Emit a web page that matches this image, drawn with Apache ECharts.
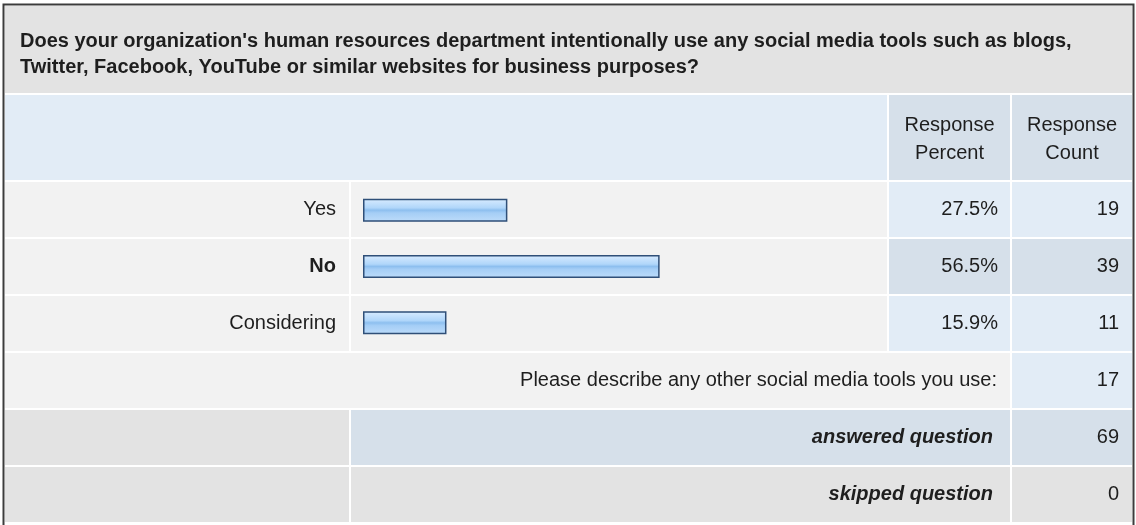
<!DOCTYPE html>
<html>
<head>
<meta charset="utf-8">
<script src="https://cdn.jsdelivr.net/npm/echarts@6/dist/echarts.min.js"></script>
<style>
  html, body { margin: 0; padding: 0; background: #ffffff; }
  #chart { width: 1136px; height: 525px; }
</style>
</head>
<body>
<div id="chart"></div>
<script>
// Survey question and answers
const questionLines = [
  "Does your organization's human resources department intentionally use any social media tools such as blogs,",
  "Twitter, Facebook, YouTube or similar websites for business purposes?"
];
const categories = ['Yes', 'No', 'Considering'];
const percents = [27.5, 56.5, 15.9];
const counts = [19, 39, 11];
const headerPercent = ['Response', 'Percent'];
const headerCount = ['Response', 'Count'];
const otherLabel = 'Please describe any other social media tools you use:';
const otherCount = 17;
const answeredLabel = 'answered question';
const answeredCount = 69;
const skippedLabel = 'skipped question';
const skippedCount = 0;

// Table geometry
const X0 = 5, XLAB = 349, XBAR = 351, XPCT = 889, XPCT_END = 1010, XCNT = 1012, XEND = 1132;
const ROW_H = 55, GAP = 2;
const Y_Q = 6, Y_Q_END = 93, Y_HEAD = 95, Y_HEAD_END = 180, Y_ROWS = 182;

const C_GRAY = '#e3e3e3', C_LIGHT = '#f2f2f2', C_BLUE = '#e2ecf6', C_BLUE2 = '#d6e0ea';
const FONT = '"Liberation Sans", Arial, sans-serif';
const TXT = '#1e1e1e';
const FS = 20;

const g = [];
function rect(x1, y1, x2, y2, fill) {
  g.push({ type: 'rect', z: 1, silent: true,
    shape: { x: x1, y: y1, width: x2 - x1, height: y2 - y1 },
    style: { fill: fill } });
}
function text(str, x, y, align, opts) {
  opts = opts || {};
  g.push({ type: 'text', z: 5, silent: true, x: x, y: y,
    style: { text: str, fill: TXT, align: align, verticalAlign: 'middle',
      font: (opts.style || 'normal') + ' ' + (opts.weight || 'normal') + ' ' + (opts.size || FS) + 'px ' + FONT } });
}

// question header
rect(X0, Y_Q, XEND, Y_Q_END, C_GRAY);
text(questionLines[0], 20, 41, 'left', { weight: 'bold' });
text(questionLines[1], 20, 67, 'left', { weight: 'bold' });

// column header
rect(X0, Y_HEAD, XPCT - 2, Y_HEAD_END, C_BLUE);
rect(XPCT, Y_HEAD, XPCT_END, Y_HEAD_END, C_BLUE2);
rect(XCNT, Y_HEAD, XEND, Y_HEAD_END, C_BLUE2);
text(headerPercent[0], (XPCT + XPCT_END) / 2, 125, 'center');
text(headerPercent[1], (XPCT + XPCT_END) / 2, 153, 'center');
text(headerCount[0], (XCNT + XEND) / 2, 125, 'center');
text(headerCount[1], (XCNT + XEND) / 2, 153, 'center');

// answer rows
categories.forEach(function (cat, i) {
  const y1 = Y_ROWS + i * (ROW_H + GAP), y2 = y1 + ROW_H, cy = (y1 + y2) / 2;
  const cellColor = i % 2 === 1 ? C_BLUE2 : C_BLUE;
  rect(X0, y1, XLAB, y2, C_LIGHT);
  rect(XBAR, y1, XPCT - 2, y2, C_LIGHT);
  rect(XPCT, y1, XPCT_END, y2, cellColor);
  rect(XCNT, y1, XEND, y2, cellColor);
  text(cat, 336, cy, 'right', { weight: cat === 'No' ? 'bold' : 'normal' });
  text(percents[i].toFixed(1) + '%', 998, cy, 'right');
  text(String(counts[i]), 1119, cy, 'right');
});

// summary rows
let ys = Y_ROWS + categories.length * (ROW_H + GAP);
rect(X0, ys, XPCT_END, ys + ROW_H, C_LIGHT);
rect(XCNT, ys, XEND, ys + ROW_H, C_BLUE);
text(otherLabel, 997, ys + ROW_H / 2, 'right');
text(String(otherCount), 1119, ys + ROW_H / 2, 'right');

ys += ROW_H + GAP;
rect(X0, ys, XLAB, ys + ROW_H, C_GRAY);
rect(XBAR, ys, XPCT_END, ys + ROW_H, C_BLUE2);
rect(XCNT, ys, XEND, ys + ROW_H, C_BLUE2);
text(answeredLabel, 993, ys + ROW_H / 2, 'right', { style: 'italic', weight: 'bold' });
text(String(answeredCount), 1119, ys + ROW_H / 2, 'right');

ys += ROW_H + GAP;
rect(X0, ys, XLAB, ys + ROW_H, C_GRAY);
rect(XBAR, ys, XPCT_END, ys + ROW_H, C_GRAY);
rect(XCNT, ys, XEND, ys + ROW_H, C_GRAY);
text(skippedLabel, 993, ys + ROW_H / 2, 'right', { style: 'italic', weight: 'bold' });
text(String(skippedCount), 1119, ys + ROW_H / 2, 'right');

// outer frame (top, left, right)
g.push({ type: 'polyline', z: 6, silent: true,
  shape: { points: [[3.5, 530], [3.5, 4.5], [1133.5, 4.5], [1133.5, 530]] },
  style: { stroke: '#3c3c3c', lineWidth: 2, fill: null } });

const chart = echarts.init(document.getElementById('chart'), null, { renderer: 'canvas' });
chart.setOption({
  animation: false,
  backgroundColor: '#ffffff',
  graphic: { elements: g },
  grid: { left: 363, top: Y_ROWS, width: 525, height: 3 * ROW_H + 2 * GAP, containLabel: false },
  xAxis: { type: 'value', min: 0, max: 100, show: false },
  yAxis: { type: 'category', data: categories, inverse: true, show: false },
  series: [{
    type: 'bar',
    z: 10,
    data: percents,
    barWidth: 23,
    itemStyle: {
      borderColor: '#2f4f78',
      borderWidth: 1.5,
      color: new echarts.graphic.LinearGradient(0, 0, 0, 1, [
        { offset: 0, color: '#d9ecff' },
        { offset: 0.4, color: '#b0d6fa' },
        { offset: 0.5, color: '#8dbfef' },
        { offset: 0.62, color: '#a5cef6' },
        { offset: 1, color: '#bddcfa' }
      ])
    }
  }]
});
</script>
</body>
</html>
